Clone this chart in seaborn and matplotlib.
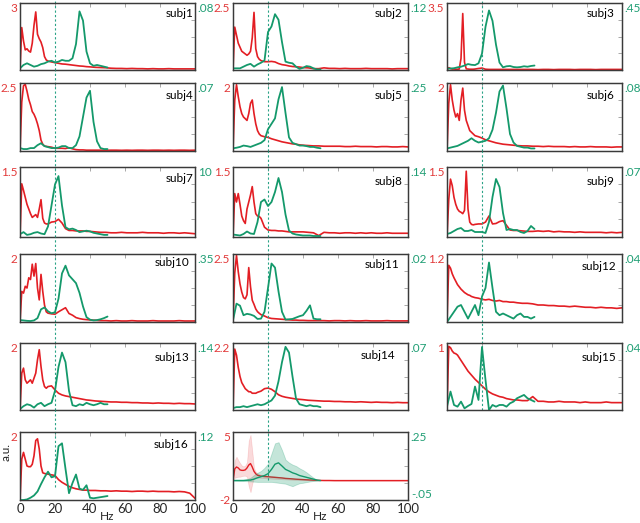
import numpy as np
import seaborn as sns
import matplotlib
matplotlib.use('Agg')
import matplotlib.pyplot as plt

sns.set_style('white')
plt.rcParams['font.family'] = ['Lato', 'DejaVu Sans']

#%% data
red_hz = np.r_[np.arange(0, 17), np.arange(18, 41, 2), np.arange(43, 101, 3)]
green_hz = np.arange(0, 51, 2)
marker_hz = 20
x_ticks = [0, 20, 40, 60, 80, 100]

subjects = ['subj%d' % i for i in range(1, 17)]
red_top = [3, 2.5, 3.5, 2.5, 2, 2, 1.5, 1.5, 1.5, 2, 2.5, 1.2, 2, 2.2, 1, 2]
red_top_labels = ['3', '2.5', '3.5', '2.5', '2', '2', '1.5', '1.5', '1.5', '2', '2.5', '1.2', '2', '2.2', '1', '2']
green_top = [.08, .12, .45, .07, .25, .08, .10, .14, .07, .35, .02, .04, .14, .07, .04, .12]
green_top_labels = ['.08', '.12', '.45', '.07', '.25', '.08', '10', '.14', '.07', '.35', '.02', '.04', '.14', '.07', '.04', '.12']

red_subj1 = [0, 1.9, 1.3, 0.9, 0.95, 0.85, 0.8, 1.2, 2.0, 2.6, 1.6, 1.4, 1.25, 1.0, 0.6, 0.45, 0.4,
             0.36, 0.33, 0.3, 0.27, 0.26, 0.24, 0.22, 0.2, 0.18, 0.17, 0.15, 0.14,
             0.12, 0.11, 0.1, 0.08, 0.07, 0.07, 0.06, 0.07, 0.06, 0.06, 0.05, 0.06, 0.05, 0.05, 0.06, 0.05, 0.05, 0.05, 0.05, 0.05]
red_subj2 = [0, 1.6, 1.3, 1.0, 0.85, 0.7, 0.65, 0.6, 0.55, 0.6, 0.7, 1.2, 2.15, 0.8, 0.5, 0.4, 0.35,
             0.31, 0.31, 0.32, 0.3, 0.24, 0.2, 0.18, 0.15, 0.13, 0.12, 0.11, 0.09,
             0.08, 0.05, 0.05, 0.08, 0.06, 0.06, 0.05, 0.06, 0.05, 0.05, 0.05, 0.06, 0.05, 0.05, 0.05, 0.05, 0.04, 0.05, 0.05, 0.05]
red_subj3 = [0, 0.12, 0.08, 0.05, 0.05, 0.04, 0.04, 0.05, 0.6, 2.95, 0.4, 0.06, 0.05, 0.04, 0.04, 0.04, 0.05,
             0.08, 0.1, 0.04, 0.03, 0.03, 0.03, 0.03, 0.03, 0.03, 0.03, 0.03, 0.03,
             0.03, 0.03, 0.03, 0.02, 0.03, 0.03, 0.02, 0.03, 0.03, 0.03, 0.02, 0.03, 0.03, 0.03, 0.02, 0.03, 0.03, 0.03, 0.03, 0.03]
red_subj4 = [0, 1.8, 2.4, 2.45, 2.2, 1.9, 1.7, 1.45, 1.35, 1.2, 1.0, 0.75, 0.4, 0.25, 0.18, 0.17, 0.16,
             0.14, 0.1, 0.1, 0.1, 0.09, 0.12, 0.08, 0.05, 0.04, 0.04, 0.03, 0.03,
             0.03, 0.03, 0.025, 0.03, 0.03, 0.025, 0.03, 0.025, 0.03, 0.03, 0.025, 0.03, 0.03, 0.025, 0.03, 0.025, 0.03, 0.03, 0.025, 0.03]
red_subj5 = [0, 1.5, 1.95, 1.6, 1.3, 1.1, 1.0, 0.95, 0.9, 1.1, 1.4, 1.5, 1.1, 0.8, 0.6, 0.5, 0.45,
             0.42, 0.4, 0.36, 0.33, 0.3, 0.27, 0.25, 0.23, 0.21, 0.2, 0.18, 0.17,
             0.16, 0.15, 0.15, 0.14, 0.14, 0.14, 0.14, 0.13, 0.13, 0.14, 0.13, 0.13, 0.13, 0.12, 0.13, 0.13, 0.12, 0.12, 0.13, 0.12]
red_subj6 = [0, 1.4, 1.95, 1.5, 1.2, 1.0, 1.1, 0.9, 1.5, 1.85, 1.2, 0.9, 0.75, 0.6, 0.55, 0.5, 0.45,
             0.42, 0.38, 0.33, 0.3, 0.27, 0.24, 0.22, 0.2, 0.19, 0.18, 0.17, 0.16,
             0.15, 0.15, 0.14, 0.14, 0.13, 0.14, 0.13, 0.13, 0.13, 0.12, 0.13, 0.12, 0.12, 0.13, 0.12, 0.12, 0.12, 0.11, 0.12, 0.12]
red_subj7 = [0, 1.14, 1.0, 0.85, 0.7, 0.6, 0.5, 0.42, 0.45, 0.48, 0.42, 0.6, 0.8, 0.4, 0.3, 0.28, 0.28,
             0.32, 0.33, 0.38, 0.3, 0.18, 0.14, 0.14, 0.13, 0.13, 0.13, 0.12, 0.12,
             0.11, 0.1, 0.1, 0.09, 0.09, 0.1, 0.09, 0.09, 0.09, 0.1, 0.09, 0.09, 0.09, 0.08, 0.09, 0.09, 0.08, 0.09, 0.08, 0.07]
red_subj8 = [0, 0.93, 0.75, 0.93, 0.7, 0.45, 0.35, 0.29, 0.6, 0.75, 0.9, 1.08, 0.75, 0.5, 0.45, 0.44, 0.4,
             0.21, 0.15, 0.14, 0.14, 0.13, 0.13, 0.12, 0.11, 0.11, 0.11, 0.11, 0.11,
             0.1, 0.09, 0.03, 0.1, 0.09, 0.09, 0.08, 0.09, 0.09, 0.08, 0.09, 0.08, 0.09, 0.08, 0.08, 0.09, 0.08, 0.08, 0.08, 0.08]
red_subj9 = [0, 0.8, 1.24, 1.1, 0.85, 0.7, 0.6, 0.55, 0.53, 0.5, 0.57, 1.41, 0.6, 0.32, 0.27, 0.26, 0.27,
             0.28, 0.28, 0.32, 0.45, 0.28, 0.29, 0.33, 0.35, 0.25, 0.15, 0.14, 0.14,
             0.13, 0.12, 0.12, 0.13, 0.12, 0.13, 0.11, 0.12, 0.11, 0.11, 0.1, 0.11, 0.1, 0.1, 0.1, 0.1, 0.09, 0.1, 0.09, 0.1]
red_subj10 = [0, 0.9, 0.85, 1.05, 1.0, 1.3, 1.25, 1.7, 1.35, 1.72, 1.0, 0.65, 1.4, 0.9, 0.5, 0.3, 0.26,
              0.24, 0.23, 0.3, 0.36, 0.42, 0.25, 0.2, 0.13, 0.1, 0.08, 0.07, 0.06,
              0.05, 0.04, 0.04, 0.03, 0.04, 0.03, 0.03, 0.04, 0.03, 0.03, 0.03, 0.04, 0.03, 0.03, 0.03, 0.03, 0.04, 0.03, 0.03, 0.03]
red_subj11 = [0, 1.8, 2.45, 1.85, 1.4, 1.1, 0.9, 0.85, 1.0, 2.0, 1.3, 0.8, 0.65, 0.48, 0.38, 0.32, 0.27,
              0.22, 0.16, 0.13, 0.12, 0.11, 0.1, 0.09, 0.08, 0.07, 0.07, 0.06, 0.06,
              0.05, 0.05, 0.05, 0.05, 0.04, 0.05, 0.05, 0.04, 0.05, 0.04, 0.04, 0.05, 0.04, 0.04, 0.04, 0.05, 0.04, 0.04, 0.04, 0.04]
red_subj12 = [0, 1.0, 0.95, 0.85, 0.78, 0.72, 0.66, 0.62, 0.58, 0.55, 0.52, 0.5, 0.48, 0.47, 0.45, 0.44, 0.43,
              0.42, 0.4, 0.39, 0.4, 0.38, 0.37, 0.38, 0.36, 0.36, 0.35, 0.35, 0.34,
              0.33, 0.33, 0.32, 0.3, 0.3, 0.29, 0.29, 0.28, 0.28, 0.27, 0.28, 0.27, 0.26, 0.26, 0.25, 0.26, 0.25, 0.25, 0.24, 0.25]
red_subj13 = [0, 1.1, 1.25, 0.9, 0.8, 0.85, 0.9, 0.8, 0.95, 1.1, 1.5, 1.8, 1.3, 0.9, 0.7, 0.65, 0.7,
              0.72, 0.6, 0.5, 0.45, 0.42, 0.4, 0.38, 0.36, 0.34, 0.32, 0.3, 0.29,
              0.27, 0.26, 0.25, 0.24, 0.24, 0.23, 0.23, 0.22, 0.22, 0.21, 0.21, 0.2, 0.21, 0.2, 0.2, 0.19, 0.2, 0.19, 0.19, 0.18]
red_subj14 = [0, 2.0, 1.8, 1.4, 1.1, 0.9, 0.8, 0.7, 0.65, 0.6, 0.6, 0.55, 0.55, 0.55, 0.58, 0.6, 0.62,
              0.7, 0.72, 0.68, 0.6, 0.5, 0.45, 0.42, 0.4, 0.38, 0.36, 0.35, 0.34,
              0.32, 0.31, 0.3, 0.29, 0.29, 0.28, 0.28, 0.27, 0.27, 0.26, 0.27, 0.26, 0.25, 0.26, 0.25, 0.25, 0.24, 0.25, 0.24, 0.24]
red_subj15 = [0, 0.95, 0.93, 0.88, 0.85, 0.84, 0.82, 0.78, 0.74, 0.7, 0.66, 0.62, 0.58, 0.55, 0.52, 0.49, 0.46,
              0.41, 0.36, 0.31, 0.27, 0.24, 0.22, 0.2, 0.19, 0.17, 0.16, 0.15, 0.15,
              0.14, 0.14, 0.2, 0.13, 0.13, 0.12, 0.12, 0.13, 0.12, 0.12, 0.12, 0.11, 0.12, 0.11, 0.11, 0.11, 0.12, 0.11, 0.11, 0.11]
red_subj16 = [0, 1.2, 1.4, 1.2, 1.0, 0.98, 0.98, 1.05, 1.3, 1.75, 1.8, 1.5, 1.0, 0.8, 0.78, 0.77, 0.76,
              0.74, 0.72, 0.6, 0.52, 0.46, 0.4, 0.36, 0.33, 0.31, 0.29, 0.29, 0.28,
              0.28, 0.27, 0.27, 0.26, 0.27, 0.26, 0.26, 0.25, 0.26, 0.26, 0.25, 0.26, 0.25, 0.25, 0.25, 0.24, 0.25, 0.24, 0.2, 0.05]

green_subj1 = [0.002, 0.006, 0.008, 0.006, 0.004, 0.005, 0.007, 0.008, 0.010, 0.011,
               0.009, 0.010, 0.012, 0.011, 0.011, 0.014, 0.031, 0.070, 0.059, 0.022,
               0.008, 0.005, 0.006, 0.005, 0.004, 0.003]
green_subj2 = [0.003, 0.003, 0.003, 0.006, 0.009, 0.011, 0.006, 0.010, 0.013, 0.017,
               0.068, 0.078, 0.100, 0.090, 0.050, 0.015, 0.013, 0.012, 0.006, 0.002,
               0.004, 0.007, 0.006, 0.003, 0.001, 0.001]
green_subj3 = [0.010, 0.010, 0.012, 0.018, 0.022, 0.030, 0.040, 0.035, 0.033, 0.045,
               0.110, 0.290, 0.400, 0.330, 0.170, 0.050, 0.018, 0.025, 0.027, 0.020,
               0.018, 0.020, 0.025, 0.022, 0.027, 0.030]
green_subj4 = [0.003, 0.002, 0.002, 0.003, 0.003, 0.006, 0.008, 0.005, 0.004, 0.003,
               0.003, 0.0035, 0.005, 0.005, 0.003, 0.003, 0.006, 0.015, 0.035, 0.055,
               0.062, 0.030, 0.010, 0.003, 0.002, 0.002]
green_subj5 = [0.010, 0.012, 0.015, 0.020, 0.018, 0.015, 0.020, 0.025, 0.030, 0.040,
               0.080, 0.100, 0.120, 0.190, 0.235, 0.140, 0.050, 0.030, 0.025, 0.020,
               0.020, 0.018, 0.015, 0.015, 0.012, 0.010]
green_subj6 = [0.003, 0.004, 0.005, 0.006, 0.008, 0.010, 0.012, 0.015, 0.012, 0.010,
               0.011, 0.012, 0.015, 0.025, 0.045, 0.070, 0.077, 0.050, 0.020, 0.010,
               0.006, 0.005, 0.004, 0.004, 0.003, 0.003]
green_subj7 = [0.004, 0.007, 0.003, 0.004, 0.006, 0.007, 0.005, 0.004, 0.015, 0.045,
               0.075, 0.087, 0.045, 0.014, 0.011, 0.012, 0.010, 0.007, 0.008, 0.009,
               0.008, 0.006, 0.005, 0.004, 0.003, 0.003]
green_subj8 = [0.005, 0.004, 0.003, 0.006, 0.011, 0.007, 0.006, 0.030, 0.070, 0.075,
               0.062, 0.070, 0.090, 0.118, 0.090, 0.045, 0.013, 0.007, 0.005, 0.004,
               0.003, 0.003, 0.003, 0.002, 0.002, 0.002]
green_subj9 = [0.003, 0.004, 0.006, 0.008, 0.009, 0.006, 0.006, 0.007, 0.005, 0.005,
               0.005, 0.004, 0.015, 0.040, 0.058, 0.050, 0.024, 0.007, 0.008, 0.007,
               0.007, 0.005, 0.004, 0.006, 0.011, 0.008]
green_subj10 = [0.010, 0.008, 0.006, 0.005, 0.008, 0.020, 0.065, 0.075, 0.055, 0.045,
                0.050, 0.120, 0.250, 0.290, 0.240, 0.220, 0.200, 0.150, 0.080, 0.025,
                0.012, 0.008, 0.010, 0.014, 0.020, 0.028]
green_subj11 = [0.0005, 0.0054, 0.0048, 0.0020, 0.0024, 0.0022, 0.0018, 0.0009, 0.0010, 0.0030,
                0.0100, 0.0172, 0.0160, 0.0090, 0.0030, 0.0007, 0.0008, 0.0009, 0.0013, 0.0017,
                0.0020, 0.0033, 0.0049, 0.0010, 0.0008, 0.0008]
green_subj12 = [0.000, 0.003, 0.006, 0.009, 0.010, 0.006, 0.002, 0.006, 0.010, 0.004,
                0.015, 0.020, 0.035, 0.020, 0.006, 0.004, 0.005, 0.004, 0.003, 0.002,
                0.004, 0.005, 0.003, 0.003, 0.002, 0.003]
green_subj13 = [0.002, 0.008, 0.012, 0.010, 0.005, 0.012, 0.015, 0.008, 0.012, 0.015,
                0.040, 0.090, 0.120, 0.100, 0.040, 0.010, 0.008, 0.012, 0.010, 0.015,
                0.012, 0.010, 0.012, 0.015, 0.012, 0.012]
green_subj14 = [0.002, 0.003, 0.003, 0.004, 0.003, 0.004, 0.005, 0.006, 0.005, 0.006,
                0.008, 0.010, 0.015, 0.030, 0.050, 0.066, 0.060, 0.035, 0.012, 0.006,
                0.005, 0.004, 0.005, 0.004, 0.004, 0.003]
green_subj15 = [0.002, 0.011, 0.003, 0.002, 0.005, 0.001, 0.0024, 0.0036, 0.014, 0.006,
                0.0376, 0.018, 0.000, 0.003, 0.002, 0.003, 0.003, 0.002, 0.004, 0.005,
                0.007, 0.008, 0.009, 0.007, 0.006, 0.005]
green_subj16 = [0.000, 0.000, 0.001, 0.004, 0.008, 0.015, 0.028, 0.040, 0.050, 0.040,
                0.042, 0.095, 0.100, 0.055, 0.012, 0.030, 0.045, 0.020, 0.018, 0.026,
                0.004, 0.003, 0.004, 0.005, 0.006, 0.007]

# group average panel (mean and band)
avg_red_lim = [-2, 5]
avg_red_labels = ['-2', '5']
avg_green_lim = [-0.05, 0.25]
avg_green_labels = ['-.05', '.25']
avg_red_mean = [0, 1.2, 1.4, 1.3, 1.1, 1.05, 1.05, 1.1, 1.3, 1.6, 1.75, 1.4, 0.95, 0.7, 0.55, 0.5, 0.45,
                0.42, 0.4, 0.36, 0.33, 0.3, 0.27, 0.22, 0.2, 0.17, 0.14, 0.12, 0.1,
                0.07, 0.04, 0.02, 0.01, 0.01, 0.0, 0.0, 0.0, 0.0, 0.0, 0.0, 0.0, 0.0, 0.0, 0.0, 0.0, 0.0, 0.0, 0.0, 0.0]
avg_red_upper = [0, 2.1, 2.45, 2.1, 1.8, 1.55, 1.45, 1.55, 1.9, 4.1, 4.7, 3.0, 1.3, 0.9, 0.75, 0.65, 0.6,
                 0.55, 0.5, 0.46, 0.42, 0.38, 0.34, 0.3, 0.27, 0.24, 0.2, 0.17, 0.14,
                 0.1, 0.06, 0.04, 0.03, 0.03, 0.02, 0.02, 0.02, 0.02, 0.02, 0.02, 0.02, 0.02, 0.02, 0.02, 0.02, 0.02, 0.02, 0.02, 0.02]
avg_red_lower = [0, 0.3, 0.35, 0.4, 0.4, 0.45, 0.5, 0.5, 0.4, -0.6, -1.2, -0.3, 0.3, 0.35, 0.3, 0.3, 0.28,
                 0.25, 0.22, 0.2, 0.18, 0.16, 0.14, 0.12, 0.1, 0.08, 0.06, 0.05, 0.04,
                 0.03, 0.01, 0.0, -0.01, -0.01, -0.02, -0.02, -0.02, -0.02, -0.02, -0.02, -0.02, -0.02, -0.02, -0.02, -0.02, -0.02, -0.02, -0.02, -0.02]
avg_green_mean = [0.036, 0.036, 0.036, 0.036, 0.037, 0.038, 0.042, 0.048, 0.053, 0.058,
                  0.066, 0.085, 0.108, 0.114, 0.100, 0.085, 0.078, 0.070, 0.065, 0.058,
                  0.054, 0.050, 0.046, 0.042, 0.038, 0.036]
avg_green_upper = [0.037, 0.037, 0.038, 0.039, 0.042, 0.048, 0.060, 0.070, 0.078, 0.092,
                   0.110, 0.155, 0.200, 0.205, 0.170, 0.128, 0.115, 0.106, 0.100, 0.090,
                   0.082, 0.072, 0.060, 0.048, 0.039, 0.036]
avg_green_lower = [0.035, 0.035, 0.034, 0.034, 0.033, 0.032, 0.031, 0.030, 0.030, 0.030,
                   0.030, 0.030, 0.028, 0.026, 0.024, 0.022, 0.016, 0.011, 0.018, 0.024,
                   0.026, 0.029, 0.032, 0.034, 0.035, 0.036]

red_curves = [red_subj1, red_subj2, red_subj3, red_subj4, red_subj5, red_subj6, red_subj7, red_subj8,
              red_subj9, red_subj10, red_subj11, red_subj12, red_subj13, red_subj14, red_subj15, red_subj16]
green_curves = [green_subj1, green_subj2, green_subj3, green_subj4, green_subj5, green_subj6, green_subj7, green_subj8,
                green_subj9, green_subj10, green_subj11, green_subj12, green_subj13, green_subj14, green_subj15, green_subj16]
for r in red_curves + [avg_red_mean, avg_red_upper, avg_red_lower]:
    assert len(r) == len(red_hz), len(r)
for g in green_curves + [avg_green_mean, avg_green_upper, avg_green_lower]:
    assert len(g) == len(green_hz), len(g)

#%% layout / style
RED = '#e31e24'
RED_TXT = '#e23a3a'
GREEN = '#14996b'
GREEN_TXT = '#1f9e74'
VLINE = '#2aa386'
SPINE = '#3a3a3a'
TICK = '#9a9a9a'

W, H = 640, 523
col_left = [20, 233, 447]
ax_w = 175
row_top = [3, 83, 167, 254, 343, 432]
row_h = [67, 68, 70, 68, 67, 68]

# (x, y) of the subject tag in axes fraction
tag_xy = [(0.99, 0.84), (0.97, 0.84), (0.955, 0.84), (0.99, 0.81), (0.97, 0.81), (0.955, 0.81),
          (0.99, 0.83), (0.97, 0.79), (0.955, 0.79), (0.97, 0.87), (0.95, 0.84), (0.97, 0.82),
          (0.97, 0.79), (0.93, 0.82), (0.97, 0.79), (0.965, 0.82)]

fig = plt.figure(figsize=(W / 100, H / 100), dpi=100)


def make_ax(r, c):
    return fig.add_axes([col_left[c] / W, 1 - (row_top[r] + row_h[r]) / H, ax_w / W, row_h[r] / H])


def vline_top(r):
    # extend the marker line up through the gap above this row
    if r == 0:
        return 1 + row_top[0] / row_h[0]
    gap = row_top[r] - (row_top[r - 1] + row_h[r - 1])
    return 1 + gap / row_h[r]


def top_label_down(labels):
    # the value written at the top of an axis hangs just below the top edge
    labels[-1].set_verticalalignment('top')


def style_axes(ax, ax2, bottom_labels):
    ax.set_xlim(0, 100)
    ax.set_xticks(x_ticks)
    ax.tick_params(axis='x', direction='in', top=True, length=3, width=0.6, color=TICK,
                   labelbottom=bottom_labels, labelsize=9.5, pad=2)
    ax.tick_params(axis='y', length=0, pad=2, labelsize=8.5, labelcolor=RED_TXT)
    ax2.tick_params(axis='y', direction='in', length=3, width=0.6, color=TICK, pad=2,
                    labelsize=8.5, labelcolor=GREEN_TXT)
    for a in (ax, ax2):
        for s in a.spines.values():
            s.set_color(SPINE)
            s.set_linewidth(0.9)
    ax.set_ylabel('')
    ax2.set_ylabel('')
    ax.set_xlabel('')


for i, name in enumerate(subjects):
    r, c = divmod(i, 3)
    ax = make_ax(r, c)
    sns.lineplot(x=red_hz, y=red_curves[i], ax=ax, color=RED, linewidth=1.2)
    ax.set_ylim(0, red_top[i])
    ax.set_yticks([red_top[i]])
    top_label_down(ax.set_yticklabels([red_top_labels[i]]))

    ax2 = ax.twinx()
    sns.lineplot(x=green_hz, y=green_curves[i], ax=ax2, color=GREEN, linewidth=1.3)
    ax2.set_ylim(0, green_top[i])
    ax2.set_yticks(np.linspace(0, green_top[i], 5))
    top_label_down(ax2.set_yticklabels(['', '', '', '', green_top_labels[i]]))

    ymin = 0.19 if name == 'subj16' else 0
    ax.axvline(marker_hz, ymin=ymin, ymax=vline_top(r), clip_on=False, color=VLINE,
               linewidth=0.8, linestyle=(0, (2, 2)))
    ax2.text(tag_xy[i][0], tag_xy[i][1], name, transform=ax2.transAxes, ha='right',
             va='center', fontsize=8.5, color='black')
    style_axes(ax, ax2, bottom_labels=(r == 5))
    if r == 5:
        ax.set_xlabel('Hz', fontsize=8.5, labelpad=-2.5)

#%% group average panel
ax = make_ax(5, 1)
ax.fill_between(red_hz, avg_red_lower, avg_red_upper, color=RED, alpha=0.16, linewidth=0.5)
sns.lineplot(x=red_hz, y=avg_red_mean, ax=ax, color=RED, linewidth=1.0)
ax.set_ylim(*avg_red_lim)
ax.set_yticks(avg_red_lim)
top_label_down(ax.set_yticklabels(avg_red_labels))

ax2 = ax.twinx()
ax2.fill_between(green_hz, avg_green_lower, avg_green_upper, facecolor=GREEN, alpha=0.25,
                 edgecolor=GREEN, linewidth=0.6)
sns.lineplot(x=green_hz, y=avg_green_mean, ax=ax2, color=GREEN, linewidth=1.0)
ax2.set_ylim(*avg_green_lim)
ax2.set_yticks(np.linspace(avg_green_lim[0], avg_green_lim[1], 5))
g_labels = ax2.set_yticklabels([avg_green_labels[0], '', '', '', avg_green_labels[1]])
top_label_down(g_labels)
g_labels[0].set_verticalalignment('bottom')
ax.axvline(marker_hz, ymin=0.29, ymax=vline_top(5), clip_on=False, color=VLINE,
           linewidth=0.8, linestyle=(0, (2, 2)))
style_axes(ax, ax2, bottom_labels=True)
ax.set_xlabel('Hz', fontsize=8.5, labelpad=-2.5)

fig.text(6 / W, 1 - 452 / H, 'a.u.', rotation=90, ha='center', va='center', fontsize=8.5)

plt.savefig('out.png', dpi=100)
